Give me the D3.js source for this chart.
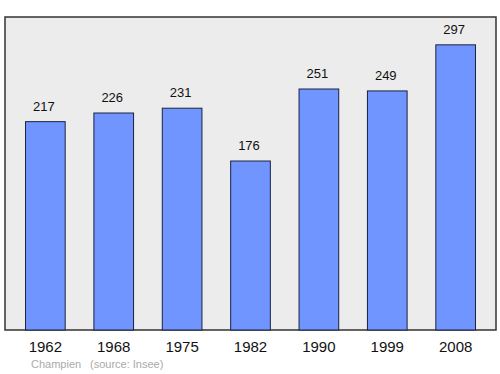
<!DOCTYPE html>
<html>
<head>
<meta charset="utf-8">
<script src="https://cdn.jsdelivr.net/npm/d3@7"></script>
<style>
  html, body { margin: 0; padding: 0; background: #fff; }
  svg { display: block; font-family: "Liberation Sans", Arial, sans-serif; }
</style>
</head>
<body>
<div id="chart"></div>
<script>
const years = ['1962', '1968', '1975', '1982', '1990', '1999', '2008'];
const population = [217, 226, 231, 176, 251, 249, 297];
const town = 'Champien';
const source = '(source: Insee)';

const width = 500, height = 374;
const box = { left: 5, top: 17, right: 496, bottom: 330 };

const svg = d3.select('#chart').append('svg')
  .attr('width', width)
  .attr('height', height);

// Plot background
svg.append('rect')
  .attr('x', box.left)
  .attr('y', box.top)
  .attr('width', box.right - box.left)
  .attr('height', box.bottom - box.top)
  .attr('fill', '#ececec')
  .attr('stroke', '#333')
  .attr('stroke-width', 1.5);

const x = d3.scaleBand()
  .domain(years)
  .range([box.left, box.right])
  .paddingInner(0.42)
  .paddingOuter(0.3);

const y = d3.scaleLinear()
  .domain([0, 326])
  .range([box.bottom, box.top]);

const data = years.map((yr, i) => ({ year: yr, value: population[i] }));

// Bars
svg.selectAll('.bar')
  .data(data)
  .join('rect')
  .attr('class', 'bar')
  .attr('x', d => x(d.year))
  .attr('y', d => y(d.value))
  .attr('width', x.bandwidth())
  .attr('height', d => y(0) - y(d.value))
  .attr('fill', '#7095ff')
  .attr('stroke', '#1a2240')
  .attr('stroke-width', 1);

// Value labels
svg.selectAll('.val')
  .data(data)
  .join('text')
  .attr('class', 'val')
  .attr('x', d => x(d.year) + x.bandwidth() / 2 - 1.5)
  .attr('y', d => y(d.value) - 11)
  .attr('text-anchor', 'middle')
  .attr('font-size', '13px')
  .attr('fill', '#111')
  .text(d => d.value);

// Year labels
svg.selectAll('.yr')
  .data(years)
  .join('text')
  .attr('class', 'yr')
  .attr('x', d => x(d) + x.bandwidth() / 2)
  .attr('y', 352)
  .attr('text-anchor', 'middle')
  .attr('font-size', '15px')
  .attr('fill', '#111')
  .text(d => d);

// Footer
svg.append('text')
  .attr('x', 31)
  .attr('y', 368)
  .attr('font-size', '11px')
  .attr('fill', '#aaa')
  .text(town);

svg.append('text')
  .attr('x', 90)
  .attr('y', 368)
  .attr('font-size', '11px')
  .attr('fill', '#aaa')
  .text(source);
</script>
</body>
</html>
